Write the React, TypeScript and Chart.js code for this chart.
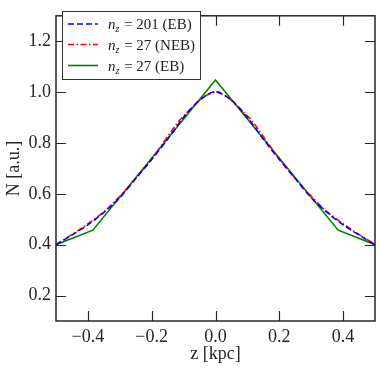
import React, { useEffect, useRef } from "react";
import { Chart, registerables } from "chart.js";
Chart.register(...registerables);

// n_z = 201 (EB)
const zEB201 = [-0.5, -0.45, -0.4, -0.35, -0.3, -0.25, -0.2, -0.15, -0.1, -0.05, 0, 0.05, 0.1, 0.15, 0.2, 0.25, 0.3, 0.35, 0.4, 0.45, 0.5];
const nEB201 = [0.4, 0.438, 0.478, 0.527, 0.585, 0.66, 0.735, 0.815, 0.9, 0.968, 1.002, 0.968, 0.9, 0.815, 0.735, 0.66, 0.585, 0.527, 0.478, 0.438, 0.4];
// n_z = 27 (NEB)
const zNEB27 = [-0.5, -0.4231, -0.3462, -0.2692, -0.1923, -0.1154, -0.0385, 0, 0.0385, 0.1154, 0.1923, 0.2692, 0.3462, 0.4231, 0.5];
const nNEB27 = [0.4, 0.462, 0.533, 0.632, 0.75, 0.885, 0.98, 1.0, 0.98, 0.885, 0.75, 0.632, 0.533, 0.462, 0.4];
// n_z = 27 (EB)
const zEB27 = [-0.5, -0.3846, 0, 0.3846, 0.5];
const nEB27 = [0.4, 0.457, 1.048, 0.457, 0.4];

const xTicks = [-0.4, -0.2, 0, 0.2, 0.4];
const yTicks = [0.2, 0.4, 0.6, 0.8, 1.0, 1.2];
const legendCounts = ["201 (EB)", "27 (NEB)", "27 (EB)"];
const xLabel = "z [kpc]";
const yLabel = "N [a.u.]";

const FONT = "'Liberation Serif', 'DejaVu Serif', serif";
const AXIS_COLOR = "#262626";

const fmt = (v: number) => {
  const s = Math.abs(v) < 1e-9 ? "0.0" : v.toFixed(1);
  return s.replace("-", "\u2212");
};

const pts = (xs: number[], ys: number[]) => xs.map((x, i) => ({ x, y: ys[i] }));

const framePlugin = {
  id: "frameTicks",
  afterDraw(chart: any) {
    const { ctx, chartArea } = chart;
    const { left, right, top, bottom } = chartArea;
    const xs = chart.scales.x;
    const ys = chart.scales.y;
    const L = 10;
    ctx.save();
    ctx.strokeStyle = AXIS_COLOR;
    ctx.lineWidth = 1.2;
    ctx.beginPath();
    xTicks.forEach((v) => {
      const px = Math.round(xs.getPixelForValue(v)) + 0.5;
      ctx.moveTo(px, bottom);
      ctx.lineTo(px, bottom - L);
      ctx.moveTo(px, top);
      ctx.lineTo(px, top + L);
    });
    yTicks.forEach((v) => {
      const py = Math.round(ys.getPixelForValue(v)) + 0.5;
      ctx.moveTo(left, py);
      ctx.lineTo(left + L, py);
      ctx.moveTo(right, py);
      ctx.lineTo(right - L, py);
    });
    ctx.stroke();
    ctx.lineWidth = 1.5;
    ctx.strokeRect(left, top, right - left, bottom - top);

    // legend
    const bx = 62, by = 11, bw = 138, bh = 68;
    ctx.fillStyle = "#ffffff";
    ctx.fillRect(bx, by, bw, bh);
    ctx.strokeStyle = "#333333";
    ctx.lineWidth = 1;
    ctx.strokeRect(bx + 0.5, by + 0.5, bw, bh);
    const rows = [24, 44.5, 65.5];
    const styles = [
      { color: "#0000ff", dash: [6, 3] },
      { color: "#ff0000", dash: [6, 2.5, 1.5, 2.5] },
      { color: "#008000", dash: [] as number[] },
    ];
    rows.forEach((ry, i) => {
      ctx.save();
      ctx.strokeStyle = styles[i].color;
      ctx.lineWidth = 1.6;
      ctx.setLineDash(styles[i].dash);
      ctx.beginPath();
      ctx.moveTo(68, ry);
      ctx.lineTo(98, ry);
      ctx.stroke();
      ctx.restore();
      ctx.fillStyle = "#222222";
      ctx.textBaseline = "alphabetic";
      ctx.textAlign = "left";
      let x = 108;
      const base = ry + 5;
      ctx.font = `italic 15px ${FONT}`;
      ctx.fillText("n", x, base);
      x += ctx.measureText("n").width;
      ctx.font = `italic 10px ${FONT}`;
      ctx.fillText("z", x, base + 3);
      x += ctx.measureText("z").width + 1;
      ctx.font = `15px ${FONT}`;
      ctx.fillText(" = " + legendCounts[i], x, base);
    });
    ctx.restore();
  },
};

export default function App() {
  const ref = useRef<HTMLCanvasElement | null>(null);
  useEffect(() => {
    document.body.style.margin = "0";
    const canvas = ref.current!;
    const chart = new Chart(canvas, {
      type: "line",
      data: {
        datasets: [
          {
            label: "n_z = 201 (EB)",
            data: pts(zEB201, nEB201),
            borderColor: "#0000ff",
            borderDash: [6, 3],
            borderWidth: 1.6,
            pointRadius: 0,
            tension: 0.3,
            fill: false,
          },
          {
            label: "n_z = 27 (NEB)",
            data: pts(zNEB27, nNEB27),
            borderColor: "#ff0000",
            borderDash: [6, 2.5, 1.5, 2.5],
            borderWidth: 1.6,
            pointRadius: 0,
            tension: 0.2,
            fill: false,
          },
          {
            label: "n_z = 27 (EB)",
            data: pts(zEB27, nEB27),
            borderColor: "#008000",
            borderWidth: 1.6,
            pointRadius: 0,
            tension: 0,
            fill: false,
          },
        ],
      },
      options: {
        animation: false,
        responsive: false,
        maintainAspectRatio: false,
        layout: { padding: { left: 0, top: 5, right: 5, bottom: 0 } },
        plugins: { legend: { display: false }, tooltip: { enabled: false } },
        scales: {
          x: {
            type: "linear",
            min: -0.5,
            max: 0.5,
            afterBuildTicks: (s: any) => {
              s.ticks = xTicks.map((v) => ({ value: v }));
            },
            afterFit: (s: any) => {
              s.height = 51;
            },
            grid: { display: false, drawTicks: false },
            border: { display: false },
            ticks: {
              padding: 5,
              color: AXIS_COLOR,
              font: { family: FONT, size: 18 },
              maxRotation: 0,
              callback: (v: any) => fmt(Number(v)),
            },
            title: {
              display: true,
              text: xLabel,
              color: AXIS_COLOR,
              font: { family: FONT, size: 18 },
              padding: { top: 0, bottom: 7 },
            },
          },
          y: {
            type: "linear",
            min: 0.1,
            max: 1.3,
            afterBuildTicks: (s: any) => {
              s.ticks = yTicks.map((v) => ({ value: v }));
            },
            afterFit: (s: any) => {
              s.width = 56;
            },
            grid: { display: false, drawTicks: false },
            border: { display: false },
            ticks: {
              padding: 5,
              color: AXIS_COLOR,
              font: { family: FONT, size: 18 },
              callback: (v: any) => fmt(Number(v)),
            },
            title: {
              display: true,
              text: yLabel,
              color: AXIS_COLOR,
              font: { family: FONT, size: 18 },
              padding: { top: 3, bottom: 0 },
            },
          },
        },
      },
      plugins: [framePlugin],
    } as any);
    return () => chart.destroy();
  }, []);
  return (
    <div style={{ position: "fixed", left: 0, top: 0, width: 380, height: 372 }}>
      <canvas ref={ref} width={380} height={372} style={{ width: 380, height: 372 }} />
    </div>
  );
}
